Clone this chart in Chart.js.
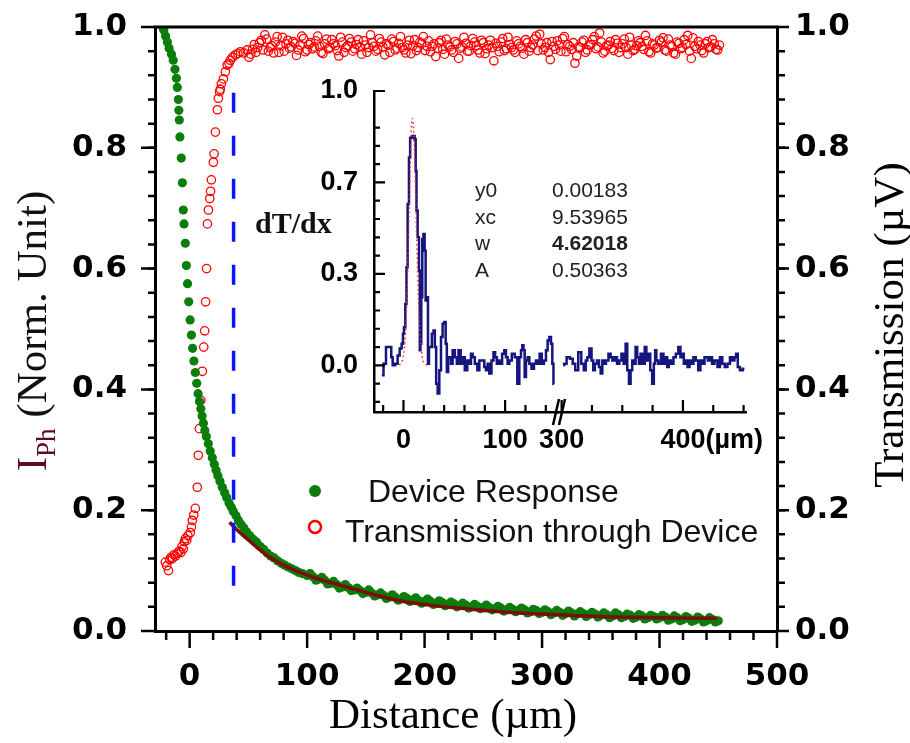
<!DOCTYPE html>
<html>
<head>
<meta charset="utf-8">
<script src="https://cdn.jsdelivr.net/npm/chart.js@4.4.0/dist/chart.umd.min.js"></script>
<style>
  html, body { margin: 0; padding: 0; background: #fff; }
  #wrap { position: relative; width: 910px; height: 743px; }
  #main { position: absolute; left: 0; top: 0; }
  #inset { position: absolute; left: 240px; top: 70px; }
</style>
</head>
<body>
<div id="wrap">
  <canvas id="main" width="910" height="743"></canvas>
  <canvas id="inset" width="540" height="390"></canvas>
</div>
<script>
// ---- main plot data ----
const respX = [-23, -22, -20.5, -19, -17.5, -15.5, -14, -12.5, -11.3, -10.5, -9.6, -9.2, -8.8, -8.3, -7.1, -6.2, -5.4, -4.8, -3.7, -2.8,
  -1.8, -0.8, 0.4, 1.5, 2.5, 3.6, 4.8, 6, 7.2, 8.4, 9.5, 10.6, 11.7, 12.9, 14.2, 15.9, 17.5, 19.3, 21, 22.5,
  24, 25.8, 27.8, 29.8, 31.5, 33.5, 35.5, 37.2, 39.5, 41.5, 43.5, 46, 48.5, 51, 54, 57, 60, 63, 66, 69,
  72, 75, 78, 81, 84, 87, 90, 93, 96, 100, 105, 110, 115, 120, 125, 130, 135, 140, 145, 150,
  155, 160, 165, 170, 175, 180, 185, 190, 195, 200, 205, 210, 215, 220, 225, 230, 235, 240, 245, 250,
  255, 260, 265, 270, 275, 280, 285, 290, 295, 300, 305, 310, 315, 320, 325, 330, 335, 340, 345, 350,
  355, 360, 365, 370, 375, 380, 385, 390, 395, 400, 405, 410, 415, 420, 425, 430, 435, 440, 445, 450];
const respY = [1.0, 0.995, 0.985, 0.975, 0.965, 0.955, 0.945, 0.93, 0.915, 0.9, 0.88, 0.862, 0.846, 0.818, 0.783, 0.742, 0.697, 0.674, 0.642, 0.605,
  0.575, 0.545, 0.515, 0.49, 0.468, 0.447, 0.428, 0.41, 0.393, 0.38, 0.368, 0.356, 0.344, 0.332, 0.322, 0.31, 0.298, 0.287, 0.276, 0.266,
  0.257, 0.248, 0.238, 0.229, 0.221, 0.212, 0.205, 0.198, 0.191, 0.183, 0.177, 0.171, 0.164, 0.158, 0.152, 0.147, 0.14, 0.135, 0.129, 0.124,
  0.121, 0.116, 0.112, 0.109, 0.106, 0.103, 0.1, 0.097, 0.095, 0.092, 0.09, 0.086, 0.084, 0.079, 0.077, 0.073, 0.072, 0.068, 0.067, 0.064,
  0.063, 0.06, 0.059, 0.056, 0.056, 0.053, 0.054, 0.051, 0.05, 0.049, 0.049, 0.046, 0.047, 0.044, 0.045, 0.042, 0.043, 0.04, 0.041, 0.039,
  0.039, 0.037, 0.038, 0.035, 0.036, 0.034, 0.035, 0.032, 0.034, 0.031, 0.032, 0.03, 0.031, 0.029, 0.03, 0.028, 0.029, 0.027, 0.028, 0.026,
  0.027, 0.025, 0.027, 0.024, 0.026, 0.023, 0.025, 0.022, 0.024, 0.022, 0.023, 0.02, 0.022, 0.019, 0.021, 0.018, 0.02, 0.017, 0.019, 0.017];
// second row of the scattered tail (band is a few points thick)
const respX2 = [102.5, 107.5, 112.5, 117.5, 122.5, 127.5, 132.5, 137.5, 142.5, 147.5, 152.5, 157.5, 162.5, 167.5, 172.5, 177.5, 182.5, 187.5, 192.5, 197.5,
  202.5, 207.5, 212.5, 217.5, 222.5, 227.5, 232.5, 237.5, 242.5, 247.5, 252.5, 257.5, 262.5, 267.5, 272.5, 277.5, 282.5, 287.5, 292.5, 297.5,
  302.5, 307.5, 312.5, 317.5, 322.5, 327.5, 332.5, 337.5, 342.5, 347.5, 352.5, 357.5, 362.5, 367.5, 372.5, 377.5, 382.5, 387.5, 392.5, 397.5,
  402.5, 407.5, 412.5, 417.5, 422.5, 427.5, 432.5, 437.5, 442.5, 447.5];
const respY2 = [0.095, 0.084, 0.089, 0.078, 0.082, 0.071, 0.077, 0.067, 0.071, 0.062, 0.068, 0.058, 0.063, 0.054, 0.06, 0.051, 0.057, 0.049, 0.055, 0.046,
  0.053, 0.044, 0.05, 0.042, 0.048, 0.04, 0.046, 0.038, 0.044, 0.037, 0.043, 0.035, 0.041, 0.033, 0.039, 0.032, 0.038, 0.03, 0.036, 0.029,
  0.035, 0.027, 0.034, 0.026, 0.033, 0.025, 0.032, 0.024, 0.031, 0.023, 0.03, 0.022, 0.03, 0.022, 0.028, 0.021, 0.027, 0.02, 0.026, 0.02,
  0.026, 0.018, 0.025, 0.017, 0.024, 0.016, 0.023, 0.015, 0.022, 0.015];

const transX = [-20.7, -19.5, -18, -17, -16, -14.7, -13.5, -12, -10.5, -9, -7.5, -6.5, -5.4, -4.5, -3.7, -2.5, -1.5, 0.6, 1.5, 2.3,
  3.5, 4.8, 6.5, 7.4, 8.3, 9.5, 10.8, 12, 12.8, 13.6, 14.4, 15.1, 16, 17.1, 17.8, 18.5, 20.2, 20.8, 21.9, 23.6,
  24.4, 25.5, 26.1, 27, 28.7, 30.4, 32, 33.5, 34.6, 36.5, 38.9, 41, 43.2, 46,
  49, 52, 55, 58, 61, 64, 67, 70, 73, 76, 79, 82, 85, 88, 91, 94, 97, 100, 103, 106,
  109, 112, 115, 118, 121, 124, 127, 130, 133, 136, 139, 142, 145, 148, 151, 154, 157, 160, 163, 166,
  169, 172, 175, 178, 181, 184, 187, 190, 193, 196, 199, 202, 205, 208, 211, 214, 217, 220, 223, 226,
  229, 232, 235, 238, 241, 244, 247, 250, 253, 256, 259, 262, 265, 268, 271, 274, 277, 280, 283, 286,
  289, 292, 295, 298, 301, 304, 307, 310, 313, 316, 319, 322, 325, 328, 331, 334, 337, 340, 343, 346,
  349, 352, 355, 358, 361, 364, 367, 370, 373, 376, 379, 382, 385, 388, 391, 394, 397, 400, 403, 406,
  409, 412, 415, 418, 421, 424, 427, 430, 433, 436, 439, 442, 445, 448, 451];
const transY = [0.114, 0.108, 0.1, 0.118, 0.122, 0.12, 0.126, 0.124, 0.128, 0.132, 0.13, 0.14, 0.136, 0.148, 0.153, 0.15, 0.158, 0.163, 0.172, 0.183,
  0.192, 0.203, 0.238, 0.291, 0.335, 0.382, 0.43, 0.47, 0.497, 0.545, 0.6, 0.674, 0.697, 0.716, 0.728, 0.747, 0.776, 0.79, 0.826, 0.863,
  0.882, 0.893, 0.897, 0.906, 0.914, 0.926, 0.937, 0.94, 0.945, 0.95, 0.954, 0.956, 0.959, 0.957,
  0.962, 0.955, 0.971, 0.966, 0.978, 0.987, 0.96, 0.969, 0.975, 0.958, 0.983, 0.972, 0.965, 0.976, 0.953, 0.97, 0.981, 0.962, 0.974, 0.967,
  0.985, 0.958, 0.972, 0.964, 0.979, 0.969, 0.952, 0.975, 0.966, 0.981, 0.96, 0.971, 0.967, 0.977, 0.958, 0.987, 0.968, 0.963, 0.975, 0.954,
  0.97, 0.98, 0.962, 0.973, 0.966, 0.957, 0.978, 0.969, 0.961, 0.975, 0.984, 0.968, 0.959, 0.972, 0.965, 0.978, 0.955, 0.97, 0.962, 0.976,
  0.948, 0.967, 0.973, 0.96, 0.981, 0.969, 0.957, 0.974, 0.964, 0.978, 0.944, 0.968, 0.975, 0.961, 0.983, 0.966, 0.958, 0.972, 0.965, 0.979,
  0.96, 0.97, 0.985, 0.988, 0.962, 0.974, 0.946, 0.968, 0.977, 0.96, 0.984, 0.971, 0.963, 0.94, 0.967, 0.975, 0.958, 0.97, 0.979, 0.964,
  0.99, 0.957, 0.969, 0.976, 0.961, 0.973, 0.966, 0.98, 0.955, 0.97, 0.963, 0.977, 0.968, 0.986, 0.959, 0.972, 0.965, 0.978, 0.982, 0.96,
  0.97, 0.957, 0.975, 0.964, 0.979, 0.986, 0.948, 0.968, 0.976, 0.961, 0.972, 0.966, 0.979, 0.963, 0.97];
// interleaved second row on the plateau
const transX2 = [50.5, 53.5, 56.5, 59.5, 62.5, 65.5, 68.5, 71.5, 74.5, 77.5, 80.5, 83.5, 86.5, 89.5, 92.5, 95.5, 98.5, 101.5, 104.5, 107.5,
  110.5, 113.5, 116.5, 119.5, 122.5, 125.5, 128.5, 131.5, 134.5, 137.5, 140.5, 143.5, 146.5, 149.5, 152.5, 155.5, 158.5, 161.5, 164.5, 167.5,
  170.5, 173.5, 176.5, 179.5, 182.5, 185.5, 188.5, 191.5, 194.5, 197.5, 200.5, 203.5, 206.5, 209.5, 212.5, 215.5, 218.5, 221.5, 224.5, 227.5,
  230.5, 233.5, 236.5, 239.5, 242.5, 245.5, 248.5, 251.5, 254.5, 257.5, 260.5, 263.5, 266.5, 269.5, 272.5, 275.5, 278.5, 281.5, 284.5, 287.5,
  290.5, 293.5, 296.5, 299.5, 302.5, 305.5, 308.5, 311.5, 314.5, 317.5, 320.5, 323.5, 326.5, 329.5, 332.5, 335.5, 338.5, 341.5, 344.5, 347.5,
  350.5, 353.5, 356.5, 359.5, 362.5, 365.5, 368.5, 371.5, 374.5, 377.5, 380.5, 383.5, 386.5, 389.5, 392.5, 395.5, 398.5, 401.5, 404.5, 407.5,
  410.5, 413.5, 416.5, 419.5, 422.5, 425.5, 428.5, 431.5, 434.5, 437.5, 440.5, 443.5, 446.5, 449.5];
const transY2 = [0.95, 0.963, 0.958, 0.974, 0.962, 0.98, 0.966, 0.957, 0.984, 0.969, 0.96, 0.978, 0.967, 0.973, 0.962, 0.985, 0.959, 0.971, 0.964, 0.977,
  0.968, 0.956, 0.98, 0.966, 0.972, 0.961, 0.983, 0.958, 0.969, 0.975, 0.964, 0.979, 0.955, 0.97, 0.966, 0.974, 0.96, 0.981, 0.967, 0.972,
  0.958, 0.976, 0.965, 0.984, 0.962, 0.97, 0.956, 0.979, 0.966, 0.973, 0.961, 0.977, 0.968, 0.951, 0.974, 0.963, 0.98, 0.967, 0.958, 0.972,
  0.965, 0.983, 0.96, 0.969, 0.975, 0.962, 0.978, 0.956, 0.97, 0.966, 0.973, 0.959, 0.981, 0.964, 0.971, 0.962, 0.977, 0.968, 0.955, 0.974,
  0.966, 0.98, 0.961, 0.972, 0.966, 0.958, 0.976, 0.963, 0.97, 0.981, 0.959, 0.968, 0.974, 0.952, 0.966, 0.978, 0.962, 0.971, 0.984, 0.967,
  0.975, 0.96, 0.97, 0.965, 0.979, 0.958, 0.972, 0.966, 0.983, 0.961, 0.969, 0.974, 0.963, 0.977, 0.957, 0.97, 0.966, 0.975, 0.962, 0.98,
  0.968, 0.955, 0.973, 0.966, 0.971, 0.96, 0.982, 0.964, 0.97, 0.957, 0.976, 0.967, 0.972, 0.962];

// fitted decay (dark red line)
const fitX = [34, 40, 48, 57, 66, 77, 88, 97, 110, 128, 150, 179, 207, 240, 264, 300, 349, 400, 449];
const fitY = [0.18, 0.168, 0.154, 0.139, 0.125, 0.112, 0.102, 0.095, 0.086, 0.076, 0.064, 0.05, 0.042, 0.036, 0.032, 0.028, 0.024, 0.022, 0.021];

// blue dashed marker
const markX = [37.4, 37.4];
const markY = [0.891, 0.071];

const xTicks = [0, 100, 200, 300, 400, 500];
const yTicks = [0, 0.2, 0.4, 0.6, 0.8, 1.0];

// ---- inset data (dT/dx) ----
const dtX1 = [-21.3, -18, -16.4, -12.5, -11.5, -9.8, -6.6, -4.9, -2.6, -1, 0, 1, 2.6, 3.3, 4.9, 5.9, 7.2, 10.5, 11.5, 12.5,
  13.1, 14.8, 15.7, 16.4, 17, 18, 19, 20.3, 21.3, 22.3, 23.6, 24.6, 25.6, 26.9, 28.9, 30.2, 31.5, 32.8, 34.4, 36.1,
  37.7, 39.3, 41, 42, 43.3, 44.6, 45.9, 47.5, 49.2, 51.8, 53.1, 55.1, 57.4, 59, 61.6, 63.9, 65.6, 67.2, 68.9, 71.5,
  73.8, 75.4, 78.7, 80.3, 82, 83.6, 85.2, 87.9, 89.2, 91.1, 92.5, 93.4, 95.7, 98.4, 100, 101.6, 103.3, 104.9, 108.2, 110.8,
  113.1, 114.8, 116.4, 117.4, 118.7, 119.7, 121.3, 123, 124.6, 127.2, 129.5, 131.1, 132.8, 135.1, 137, 139.3, 141, 142.6, 144.3, 145.9,
  146.9, 148.2];
const dtY1 = [-0.036, 0.006, 0.067, 0.067, 0.03, 0, 0.006, 0.036, 0.061, 0.079, 0.115, 0.139, 0.224, 0.358, 0.588, 0.758, 0.83, 0.836, 0.824, 0.709,
  0.564, 0.467, 0.345, 0.055, 0.079, 0.248, 0.461, 0.479, 0.418, 0.236, 0.248, 0.006, 0.067, 0.067, 0.115, 0.127, 0.067, -0.067, -0.103, -0.018,
  0.103, 0.152, 0.158, 0.079, -0.024, 0.03, 0.03, 0.006, 0.055, 0.03, 0.006, 0.055, 0.006, 0.03, -0.018, 0.018, 0.006, 0.042, 0.03, 0.006,
  -0.018, 0.018, 0.018, -0.006, -0.018, 0.006, -0.03, 0.018, 0.048, 0.03, 0.006, 0.018, 0.006, 0.042, 0.055, 0.03, 0.006, 0.018, 0.042, 0.03,
  -0.067, 0.03, 0.055, 0.073, 0.055, -0.042, 0.018, 0.03, 0.006, -0.012, 0.006, 0.018, 0.006, 0.042, 0.006, 0.018, 0.055, 0.091, 0.103, 0.079,
  0.006, -0.067];
const dtX2 = [301.4, 302.7, 305.5, 308.2, 310.1, 312.3, 315.1, 317.3, 319.2, 320.5, 321.9, 323.8, 325.5, 326.6, 328.2, 330.1, 331.5, 332.9, 334.2, 335.6,
  337.5, 339.7, 341.1, 342.5, 344.7, 346.6, 348.5, 350.1, 352.1, 353.4, 354.8, 356.2, 357.5, 358.9, 360.3, 361.6, 363, 364.4, 365.8, 367.7,
  369.3, 370.4, 372.1, 374, 375.3, 376.7, 377.5, 378.6, 380.8, 383, 384.9, 386.3, 387.7, 389, 391.2, 393.2, 395.1, 397.3, 398.6, 400,
  401.4, 402.7, 404.9, 406, 407.7, 409.6, 411.5, 413.7, 415.1, 416.4, 419.2, 421.9, 423.3, 424.7, 427.4, 429.6, 431.5, 433.4, 435.6, 437.8,
  439.7, 441.6, 443.3, 444.4, 446, 447.9, 450.7];
const dtY2 = [0, 0.006, 0.03, 0.024, 0.006, -0.018, 0.048, 0.006, -0.018, 0.018, 0.03, 0.061, 0.018, -0.018, 0.006, 0.018, -0.006, -0.03, 0.018, 0.006,
  0.018, 0.042, 0.03, 0.018, 0.03, 0.006, 0.018, 0.042, 0.006, 0.079, -0.018, -0.067, -0.018, 0.018, 0.006, 0.067, 0.03, 0.006, 0.042, 0.006,
  0.067, 0.018, 0.042, -0.018, -0.067, 0.006, 0.055, 0.018, 0.006, 0.042, 0.006, 0.03, -0.006, 0.018, 0.006, 0.03, 0.042, 0.067, 0.03, 0.042,
  0.006, 0.018, -0.006, 0.018, 0.006, 0.03, 0.018, -0.018, 0.018, 0.006, 0.03, 0.018, 0.03, 0.006, 0.018, -0.006, 0.03, 0.006, -0.006, 0.006,
  0.03, 0.018, 0.03, 0.042, -0.006, -0.018, -0.012];
// gaussian fit (red dotted) around the peak
const gaussX = [-4, -1, 1.5, 3.5, 5.5, 7, 8.5, 10, 11.5, 13, 15, 17, 20, 24];
const gaussY = [0.002, 0.02, 0.09, 0.27, 0.55, 0.78, 0.9, 0.86, 0.7, 0.47, 0.22, 0.08, 0.01, 0.002];

const insetYTicks = [0, 0.3333, 0.6667, 1];
const insetXTicks1 = [0, 100];
const insetXTicks2 = [300, 400];

const fitParams = [['y0', '0.00183'], ['xc', '9.53965'], ['w', '4.62018'], ['A', '0.50363']];

function pts(xs, ys) {
    return xs.map((x, i) => ({ x: x, y: ys[i] }));
}

// tick positions for the minor marks (axis decoration only)
function steps(a, b, step) {
    const out = [];
    for (let v = a; v <= b + 1e-9; v += step) out.push(Math.round(v * 10000) / 10000);
    return out;
}

function drawTicks(ctx, scale, values, len, dir, edge) {
    ctx.beginPath();
    values.forEach(v => {
        const p = scale.getPixelForValue(v);
        if (scale.isHorizontal()) {
            ctx.moveTo(p, edge);
            ctx.lineTo(p, edge + dir * len);
        } else {
            ctx.moveTo(edge, p);
            ctx.lineTo(edge + dir * len, p);
        }
    });
    ctx.stroke();
}

// fixed axis sizes, no extra label padding around the plot
function fixSize(w, h) {
    return s => {
        if (w) s.width = w;
        if (h) s.height = h;
        s.paddingTop = 0; s.paddingBottom = 0;
        s.paddingLeft = 0; s.paddingRight = 0;
    };
}

const noGrid = { display: false, drawTicks: false };
const tickFont = { family: 'DejaVu Sans', size: 31, weight: 'bold' };

// ---- decorations of the main chart ----
const mainDeco = {
    id: 'mainDeco',
    afterDraw(chart) {
        const ctx = chart.ctx;
        const a = chart.chartArea;
        const sx = chart.scales.x, sy = chart.scales.y, sy2 = chart.scales.y2;
        ctx.save();
        ctx.strokeStyle = '#000';
        ctx.lineWidth = 3;
        ctx.beginPath();
        ctx.moveTo(a.left - 1.5, a.top);
        ctx.lineTo(a.right + 1.5, a.top);
        ctx.stroke();

        ctx.lineWidth = 2.5;
        drawTicks(ctx, sx, xTicks, 17, 1, a.bottom);
        drawTicks(ctx, sx, steps(-20, 480, 20).filter(v => v % 100 !== 0), 9, 1, a.bottom);
        drawTicks(ctx, sy, yTicks, 14, -1, a.left);
        drawTicks(ctx, sy, steps(0.04, 0.96, 0.04), 7, -1, a.left);
        drawTicks(ctx, sy2, yTicks, 12, 1, a.right);
        drawTicks(ctx, sy2, steps(0.04, 0.96, 0.04), 8, 1, a.right);

        // axis titles
        ctx.fillStyle = '#000';
        ctx.font = '43px "Liberation Serif"';
        ctx.textAlign = 'center';
        ctx.textBaseline = 'alphabetic';
        ctx.fillText('Distance (\u00b5m)', 453, 728);

        ctx.save();
        ctx.translate(903, 325);
        ctx.rotate(-Math.PI / 2);
        ctx.fillText('Transmission (\u00b5V)', 0, 0);
        ctx.restore();

        // left title with subscript
        ctx.save();
        ctx.translate(46, 331);
        ctx.rotate(-Math.PI / 2);
        ctx.textAlign = 'left';
        ctx.font = '43px "Liberation Serif"';
        const wI = ctx.measureText('I').width;
        const wRest = ctx.measureText(' (Norm. Unit)').width;
        ctx.font = '27px "Liberation Serif"';
        const wSub = ctx.measureText('Ph').width;
        const x0 = -(wI + wSub + wRest) / 2;
        ctx.fillStyle = '#5c0a28';
        ctx.font = '43px "Liberation Serif"';
        ctx.fillText('I', x0, 0);
        ctx.font = '27px "Liberation Serif"';
        ctx.fillText('Ph', x0 + wI, 9);
        ctx.fillStyle = '#111';
        ctx.font = '43px "Liberation Serif"';
        ctx.fillText(' (Norm. Unit)', x0 + wI + wSub, 0);
        ctx.restore();

        // legend
        ctx.fillStyle = '#0b7d0b';
        ctx.beginPath();
        ctx.arc(315, 491, 6, 0, Math.PI * 2);
        ctx.fill();
        ctx.strokeStyle = '#ff0000';
        ctx.lineWidth = 2.5;
        ctx.beginPath();
        ctx.arc(315, 527, 6, 0, Math.PI * 2);
        ctx.stroke();
        ctx.fillStyle = '#111';
        ctx.font = '32px "Liberation Sans"';
        ctx.textAlign = 'left';
        ctx.fillText('Device Response', 368, 502);
        ctx.fillText('Transmission through Device', 345, 542);
        ctx.restore();
    }
};

const greenDots = {
    pointRadius: 4.6,
    pointBackgroundColor: '#0b7d0b',
    pointBorderColor: '#0b7d0b',
    pointBorderWidth: 0,
    order: 2
};
const redRings = {
    pointRadius: 4.2,
    pointBackgroundColor: 'rgba(0,0,0,0)',
    pointBorderColor: '#ff0000',
    pointBorderWidth: 1.3,
    order: 3
};

new Chart(document.getElementById('main'), {
    type: 'scatter',
    data: {
        datasets: [
            {
                label: 'marker',
                data: pts(markX, markY),
                showLine: true,
                borderColor: '#0a14ff',
                borderWidth: 3.5,
                borderDash: [20, 23],
                pointRadius: 0,
                order: 0
            },
            {
                label: 'fit',
                data: pts(fitX, fitY),
                showLine: true,
                borderColor: '#7d0c0c',
                borderWidth: 3.5,
                cubicInterpolationMode: 'monotone',
                pointRadius: 0,
                order: 1
            },
            Object.assign({ label: 'Device Response', data: pts(respX, respY) }, greenDots),
            Object.assign({ label: 'Device Response 2', data: pts(respX2, respY2) }, greenDots),
            Object.assign({ label: 'Transmission through Device', data: pts(transX, transY) }, redRings),
            Object.assign({ label: 'Transmission 2', data: pts(transX2, transY2) }, redRings)
        ]
    },
    options: {
        responsive: false,
        animation: false,
        devicePixelRatio: 1,
        layout: { padding: { top: 27, left: 0, right: 0, bottom: 0 } },
        plugins: { legend: { display: false }, tooltip: { enabled: false } },
        scales: {
            x: {
                type: 'linear', position: 'bottom', min: -29.5, max: 500,
                afterBuildTicks: s => { s.ticks = xTicks.map(v => ({ value: v })); },
                afterFit: fixSize(0, 112),
                grid: noGrid,
                border: { color: '#000', width: 3 },
                ticks: { font: tickFont, color: '#000', padding: 27, maxRotation: 0, autoSkip: false }
            },
            y: {
                type: 'linear', position: 'left', min: 0, max: 1,
                afterBuildTicks: s => { s.ticks = yTicks.map(v => ({ value: v })); },
                afterFit: fixSize(155, 0),
                grid: noGrid,
                border: { color: '#000', width: 3 },
                ticks: { font: tickFont, color: '#000', padding: 28, callback: v => v.toFixed(1) }
            },
            y2: {
                type: 'linear', position: 'right', min: 0, max: 1,
                afterBuildTicks: s => { s.ticks = yTicks.map(v => ({ value: v })); },
                afterFit: fixSize(133, 0),
                grid: noGrid,
                border: { color: '#000', width: 3 },
                ticks: { font: tickFont, color: '#000', padding: 18, callback: v => v.toFixed(1) }
            }
        }
    },
    plugins: [mainDeco]
});

// ---- inset ----
const insetFont = { family: 'Liberation Sans', size: 27, weight: 'bold' };
const insetLabelPad = 12;

const insetDeco = {
    id: 'insetDeco',
    afterDraw(chart) {
        const ctx = chart.ctx;
        const a = chart.chartArea;
        const s1 = chart.scales.x1, s2 = chart.scales.x2, sy = chart.scales.y;
        ctx.save();
        ctx.strokeStyle = '#000';
        ctx.lineWidth = 2.2;
        drawTicks(ctx, sy, insetYTicks, 11, 1, a.left);
        drawTicks(ctx, sy, steps(-0.1333, 0.9334, 0.06667).filter(v => Math.abs(v * 3 - Math.round(v * 3)) > 0.01), 6, 1, a.left);
        drawTicks(ctx, s1, insetXTicks1, 12, -1, a.bottom);
        drawTicks(ctx, s1, [-20, 20, 40, 60, 80, 120, 140], 7, -1, a.bottom);
        drawTicks(ctx, s2, insetXTicks2, 12, -1, a.bottom);
        drawTicks(ctx, s2, [325, 350, 375, 425, 450], 7, -1, a.bottom);

        // axis break
        const bx = s1.right;
        ctx.lineWidth = 2.5;
        ctx.beginPath();
        ctx.moveTo(bx - 5, a.bottom + 13);
        ctx.lineTo(bx + 1, a.bottom - 13);
        ctx.moveTo(bx + 1, a.bottom + 13);
        ctx.lineTo(bx + 7, a.bottom - 13);
        ctx.stroke();

        // unit after the 400 label
        ctx.fillStyle = '#000';
        ctx.font = 'bold 27px "Liberation Sans"';
        const w400 = ctx.measureText('400').width;
        ctx.textAlign = 'left';
        ctx.textBaseline = 'middle';
        ctx.fillText('(\u00b5m)', s2.getPixelForValue(400) + w400 / 2, a.bottom + insetLabelPad + 27 * 1.2 / 2);

        // label and fit table
        ctx.textBaseline = 'alphabetic';
        ctx.fillStyle = '#111';
        ctx.font = 'bold 30px "Liberation Serif"';
        ctx.fillText('dT/dx', 15, 163);
        ctx.fillStyle = '#222';
        fitParams.forEach((row, i) => {
            const yb = 127 + i * 26.7;
            ctx.font = '21px "Liberation Sans"';
            ctx.fillText(row[0], 235, yb);
            ctx.font = (row[0] === 'w' ? 'bold ' : '') + '21px "Liberation Sans"';
            ctx.fillText(row[1], 312, yb);
        });
        ctx.restore();
    }
};

new Chart(document.getElementById('inset'), {
    type: 'scatter',
    data: {
        datasets: [
            {
                label: 'gauss',
                data: pts(gaussX, gaussY),
                xAxisID: 'x1',
                showLine: true,
                borderColor: '#ff2020',
                borderWidth: 1.5,
                borderDash: [1.5, 3],
                cubicInterpolationMode: 'monotone',
                pointRadius: 0,
                order: 0
            },
            {
                label: 'dT/dx a',
                data: pts(dtX1, dtY1),
                xAxisID: 'x1',
                showLine: true,
                stepped: 'middle',
                borderColor: '#15157f',
                borderWidth: 2.5,
                pointRadius: 0,
                order: 1
            },
            {
                label: 'dT/dx b',
                data: pts(dtX2, dtY2),
                xAxisID: 'x2',
                showLine: true,
                stepped: 'middle',
                borderColor: '#15157f',
                borderWidth: 2.5,
                pointRadius: 0,
                order: 1
            }
        ]
    },
    options: {
        responsive: false,
        animation: false,
        devicePixelRatio: 1,
        layout: { padding: { top: 21, right: 34, left: 0, bottom: 0 } },
        plugins: { legend: { display: false }, tooltip: { enabled: false } },
        scales: {
            x1: {
                type: 'linear', position: 'bottom', stack: 'ix', stackWeight: 184, min: -29, max: 152,
                afterBuildTicks: s => { s.ticks = insetXTicks1.map(v => ({ value: v })); },
                afterFit: fixSize(0, 48),
                grid: noGrid,
                border: { color: '#000', width: 2.5 },
                ticks: { font: insetFont, color: '#000', padding: insetLabelPad, maxRotation: 0, autoSkip: false }
            },
            x2: {
                type: 'linear', position: 'bottom', stack: 'ix', stackWeight: 188, min: 297, max: 452,
                afterBuildTicks: s => { s.ticks = insetXTicks2.map(v => ({ value: v })); },
                afterFit: fixSize(0, 48),
                grid: noGrid,
                border: { color: '#000', width: 2.5 },
                ticks: { font: insetFont, color: '#000', padding: insetLabelPad, maxRotation: 0, autoSkip: false }
            },
            y: {
                type: 'linear', position: 'left', min: -0.17, max: 1,
                afterBuildTicks: s => { s.ticks = insetYTicks.map(v => ({ value: v })); },
                afterFit: fixSize(134, 0),
                grid: noGrid,
                border: { color: '#000', width: 2.5 },
                ticks: { font: insetFont, color: '#000', padding: 16, callback: v => v.toFixed(1) }
            }
        }
    },
    plugins: [insetDeco]
});
</script>
</body>
</html>
